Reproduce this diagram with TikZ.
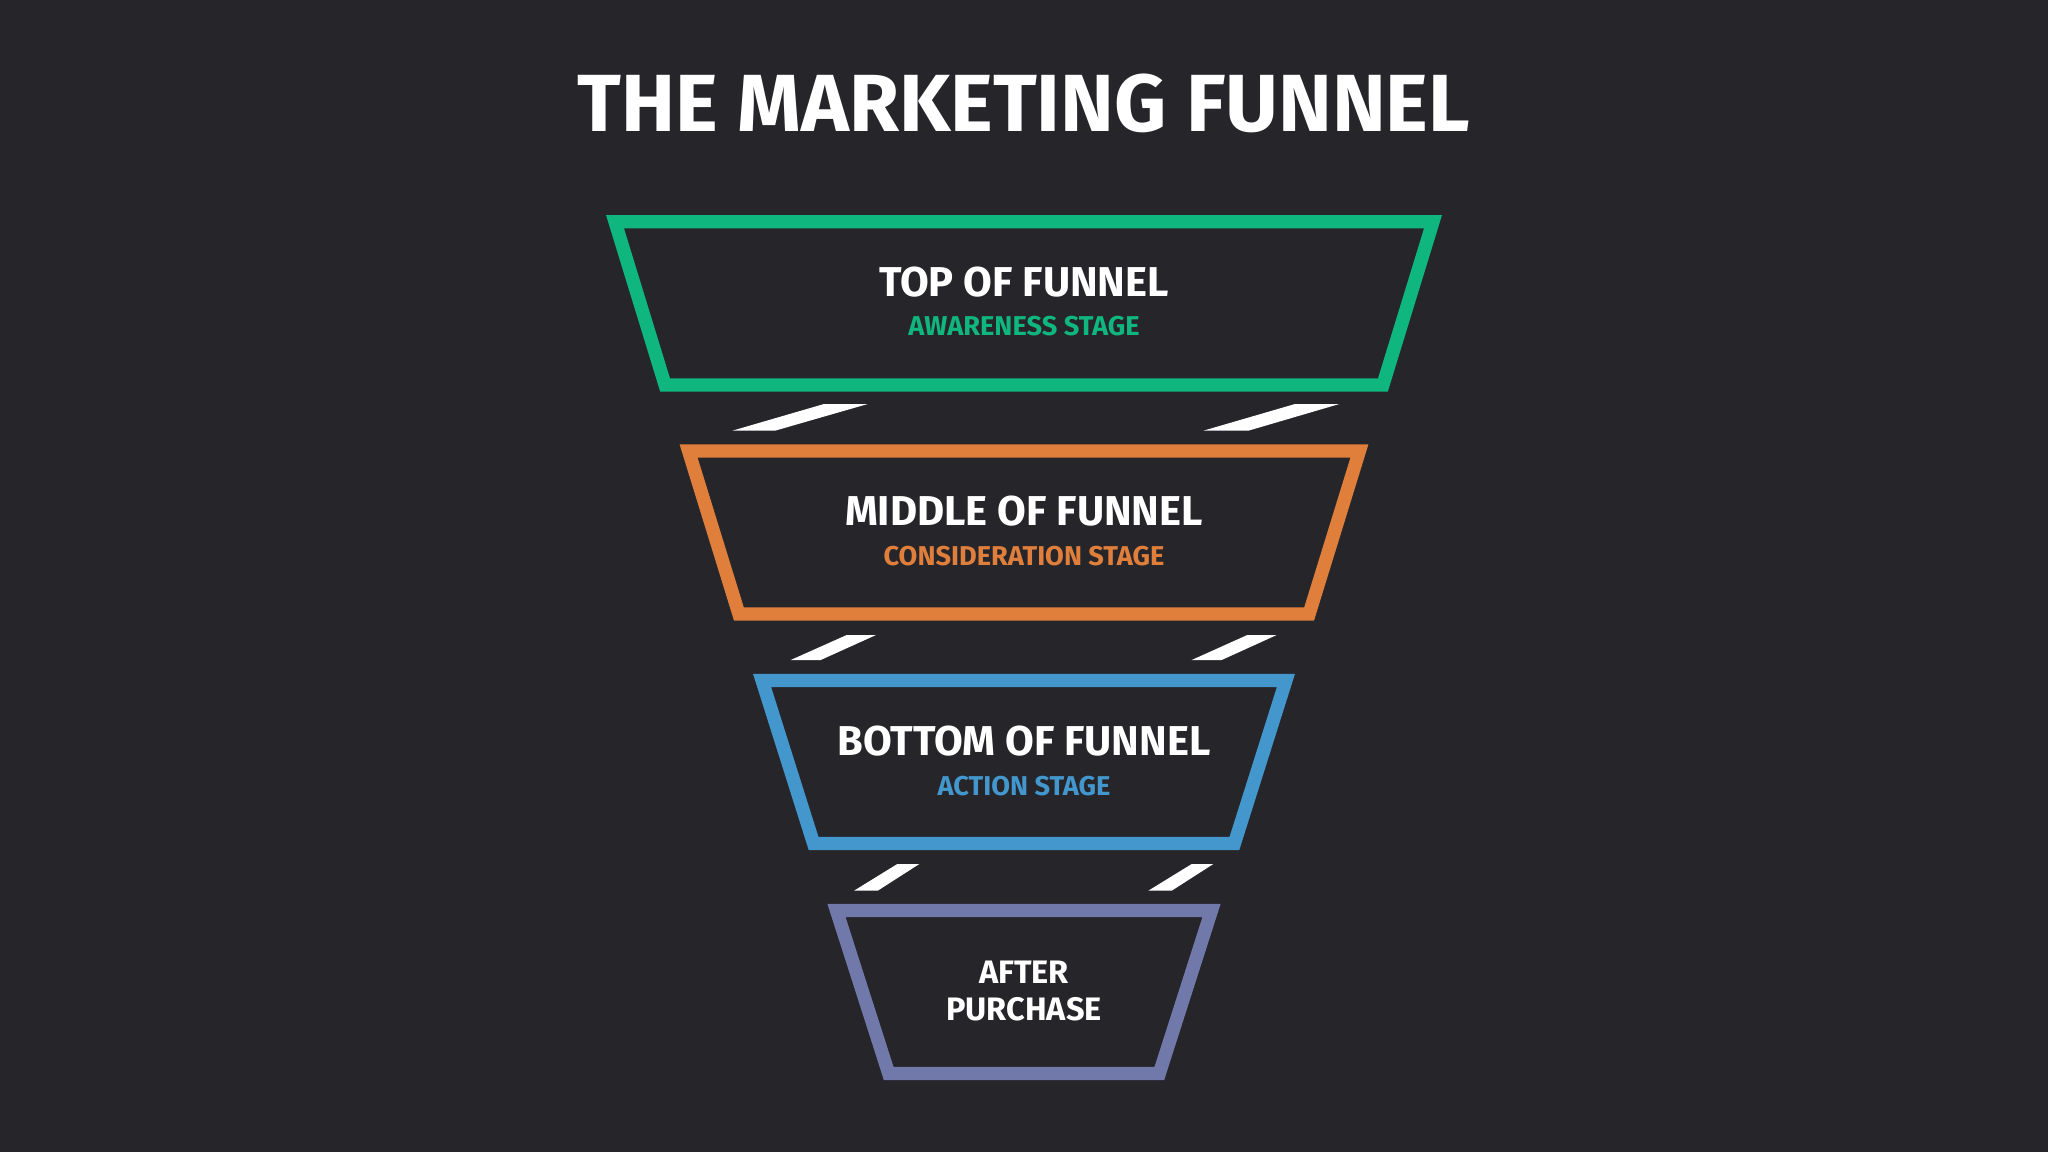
\documentclass[tikz,border=0pt]{standalone}
\usepackage{fontspec}
\setmainfont{Fira Sans}
\definecolor{bgdark}{HTML}{25252A}
\definecolor{fgreen}{HTML}{0FB67E}
\definecolor{forange}{HTML}{E07F3C}
\definecolor{fblue}{HTML}{4397CD}
\definecolor{fpurple}{HTML}{7179AA}
\tikzset{
  stagebox/.style={draw=#1, line width=13.3pt, line join=miter},
  slashbar/.style={fill=white, draw=none},
  lbl/.style={anchor=base, inner sep=0pt, text=white},
  titlefont/.style={font=\fontsize{81.1}{97}\selectfont\bfseries},
  headfont/.style={font=\fontsize{41.7}{50}\selectfont\bfseries},
  subfont/.style={font=\fontsize{27.2}{33}\selectfont\bfseries},
  afterfont/.style={font=\fontsize{32.5}{39}\selectfont\bfseries}
}
\begin{document}
\begin{tikzpicture}[x=1pt,y=-1pt]
\fill[bgdark] (0,0) rectangle (2048,1152);
\useasboundingbox (0,0) rectangle (2048,1152);

% title
\node[lbl, titlefont] (title) at (1024,131.7) {THE MARKETING FUNNEL};

% funnel stages (centre lines)
\draw[stagebox=fgreen]  (615,221.7) -- (1433,221.7) -- (1382.9,385) -- (665.1,385) -- cycle;
\draw[stagebox=forange] (688.6,451) -- (1359.4,451) -- (1309.1,614) -- (738.9,614) -- cycle;
\draw[stagebox=fblue]   (762.1,680.5) -- (1285.9,680.5) -- (1234.4,843.5) -- (813.6,843.5) -- cycle;
\draw[stagebox=fpurple] (836.5,910.5) -- (1211.5,910.5) -- (1159.3,1073.5) -- (888.7,1073.5) -- cycle;

% labels
\node[lbl, headfont] (top) at (1024,296) {TOP OF FUNNEL};
\node[lbl, subfont, text=fgreen] (topsub) at (1024,335) {AWARENESS STAGE};
\node[lbl, headfont] (mid) at (1024,525.5) {MIDDLE OF FUNNEL};
\node[lbl, subfont, text=forange] (midsub) at (1024,565) {CONSIDERATION STAGE};
\node[lbl, headfont] (bot) at (1024,755) {BOTTOM OF FUNNEL};
\node[lbl, subfont, text=fblue] (botsub) at (1024,795) {ACTION STAGE};
\node[lbl, afterfont] (after) at (1024,983.3) {AFTER};
\node[lbl, afterfont] (purchase) at (1024,1020) {PURCHASE};

% slashes between stages
\fill[slashbar] (732.3,430.7) -- (775,430.7) -- (867.7,404) -- (824,404) -- cycle;
\fill[slashbar] (1203.3,430.7) -- (1248.3,430.7) -- (1339.3,404) -- (1295,404) -- cycle;
\fill[slashbar] (790.7,660) -- (820.7,660) -- (876,635) -- (846.7,635) -- cycle;
\fill[slashbar] (1191.7,660) -- (1221.7,660) -- (1276.7,635) -- (1247.3,635) -- cycle;
\fill[slashbar] (854,890.7) -- (877.7,890.7) -- (919.3,864) -- (897.3,864) -- cycle;
\fill[slashbar] (1148.3,890.7) -- (1171.7,890.7) -- (1213.3,864) -- (1191.7,864) -- cycle;
\end{tikzpicture}
\end{document}
